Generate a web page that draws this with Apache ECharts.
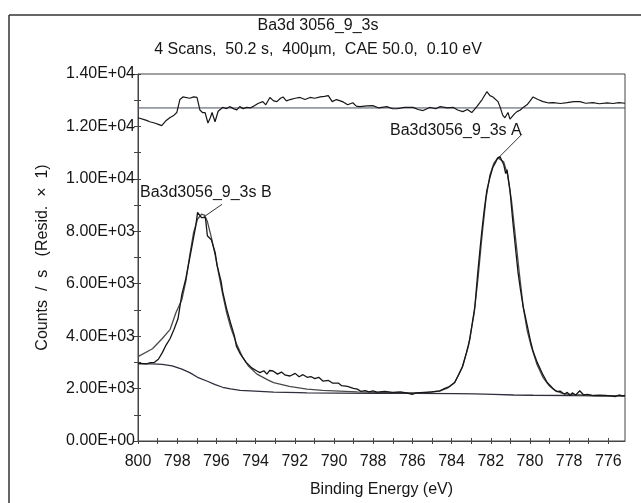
<!DOCTYPE html>
<html lang="en">
<head>
    <meta charset="UTF-8">
    <title>Ba3d 3056_9_3s</title>
    <script src="https://cdn.jsdelivr.net/npm/echarts@6.0.0/dist/echarts.min.js"></script>
    <style>
        html, body {margin: 0; padding: 0; background: #fff;}
        #main {width: 641px; height: 503px;}
    </style>
</head>
<body>
<div id="main"></div>

<script>
    // binding energy (eV), counts / s
    var rawCounts = [
        [800.0, 2970], [799.56, 2940], [799.36, 2990], [799.16, 3000], [798.96, 3120], [798.76, 3370],
        [798.56, 3670], [798.36, 3910], [798.16, 4260], [797.96, 4660], [797.76, 5600], [797.56, 6190],
        [797.36, 6980], [797.16, 7780], [797.06, 8170], [796.96, 8720], [796.86, 8670], [796.76, 8520],
        [796.66, 8570], [796.56, 8520], [796.46, 7830], [796.36, 7870], [796.26, 7680], [796.06, 7180],
        [795.96, 6690], [795.76, 6090], [795.68, 5700], [795.48, 5050], [795.28, 4510], [795.08, 4010],
        [794.98, 3620], [794.78, 3320], [794.48, 3000], [794.18, 2780], [793.93, 2670], [793.78, 2610],
        [793.58, 2680], [793.42, 2550], [793.28, 2690], [793.11, 2670], [792.88, 2550], [792.68, 2630],
        [792.48, 2510], [792.24, 2480], [791.98, 2580], [791.78, 2450], [791.58, 2530], [791.37, 2430],
        [791.18, 2460], [790.98, 2380], [790.78, 2430], [790.55, 2280], [790.28, 2310], [790.08, 2210],
        [789.78, 2210], [789.61, 2110], [789.31, 2080], [789.01, 2010], [788.81, 1980], [788.61, 1890],
        [788.41, 1920], [788.21, 1870], [788.01, 1910], [787.81, 1865], [787.41, 1895], [787.01, 1855],
        [786.61, 1875], [786.31, 1835], [786.01, 1775], [785.81, 1835], [785.41, 1855], [785.01, 1875],
        [784.61, 1915], [784.41, 1985], [784.11, 2080], [783.84, 2230], [783.64, 2530], [783.44, 2850],
        [783.24, 3370], [783.07, 3880], [782.94, 4510], [782.81, 5140], [782.66, 6440], [782.54, 7380],
        [782.46, 7970], [782.34, 8770], [782.2, 9560], [782.04, 10060], [781.89, 10450], [781.74, 10650],
        [781.64, 10800], [781.53, 10850], [781.44, 10700], [781.34, 10550], [781.24, 10200], [781.17, 10350],
        [781.02, 9560], [780.87, 8340], [780.74, 7380], [780.61, 6440], [780.49, 5800], [780.35, 5140],
        [780.14, 4410], [779.99, 3880], [779.84, 3420], [779.63, 3000], [779.34, 2530], [779.12, 2230],
        [778.84, 2010], [778.64, 1885], [778.46, 1905], [778.24, 1785], [778.1, 1855], [777.94, 1735],
        [777.84, 1835], [777.66, 1755], [777.46, 1915], [777.26, 1755], [777.06, 1775], [776.76, 1735],
        [776.46, 1745], [776.16, 1735], [775.86, 1725], [775.66, 1695], [775.46, 1755], [775.26, 1725],
        [775.15, 1735]
    ];

    var envelopeFit = [
        [800.0, 3220], [799.26, 3520], [798.76, 3910], [798.36, 4260], [798.06, 4900], [797.76, 5400],
        [797.56, 6090], [797.36, 7080], [797.16, 7970], [796.96, 8470], [796.76, 8650], [796.61, 8620],
        [796.46, 8370], [796.26, 7780], [796.06, 7080], [795.86, 6290], [795.68, 5600], [795.48, 4900],
        [795.28, 4360], [794.98, 3720], [794.68, 3220], [794.38, 2870], [793.93, 2550], [793.38, 2330],
        [793.08, 2230], [792.28, 2080], [791.38, 1980], [790.58, 1930], [789.7, 1905], [788.81, 1875],
        [787.81, 1855], [786.81, 1845], [785.81, 1835], [785.21, 1855], [784.61, 1905], [784.21, 2015],
        [783.84, 2230], [783.44, 2825], [783.14, 3620], [782.84, 4900], [782.64, 6290], [782.44, 7870],
        [782.24, 9260], [782.04, 10150], [781.84, 10600], [781.64, 10800], [781.54, 10830], [781.34, 10650],
        [781.14, 10150], [780.94, 9160], [780.74, 7780], [780.54, 6390], [780.34, 5100], [780.14, 4210],
        [779.94, 3620], [779.64, 2920], [779.34, 2430], [779.04, 2130], [778.74, 1935], [778.34, 1815],
        [777.84, 1765], [776.86, 1735], [775.86, 1725], [775.15, 1725]
    ];

    var shirleyBg = [
        [800.0, 2945], [799.26, 2945], [798.76, 2925], [798.26, 2865], [797.76, 2745], [797.36, 2610],
        [796.96, 2430], [796.46, 2280], [796.06, 2150], [795.68, 2050], [795.28, 1985], [794.78, 1935],
        [793.78, 1895], [793.08, 1865], [791.78, 1845], [791.38, 1835], [789.8, 1825], [787.81, 1815],
        [785.81, 1815], [783.84, 1805], [782.84, 1795], [781.84, 1775], [780.84, 1755], [779.84, 1745],
        [777.84, 1735], [775.86, 1725], [775.15, 1725]
    ];

    var residual = [
        [800.0, 12330], [799.56, 12230], [799.4, 12180], [799.16, 12130], [798.96, 12080], [798.79, 12030],
        [798.56, 12230], [798.38, 12330], [798.16, 12430], [798.02, 12530], [797.86, 13030], [797.71, 13125],
        [797.36, 13075], [797.16, 13125], [796.99, 13105], [796.84, 12625], [796.71, 12530], [796.58, 12530],
        [796.43, 12130], [796.31, 12330], [796.22, 12530], [796.07, 12180], [795.91, 12580], [795.68, 12725],
        [795.48, 12680], [795.32, 12755], [795.13, 12680], [794.96, 12630], [794.81, 12755], [794.63, 12680],
        [794.45, 12725], [794.28, 12705], [794.14, 12755], [793.88, 12875], [793.63, 12945], [793.48, 12825],
        [793.27, 13105], [793.08, 12975], [792.91, 12945], [792.73, 13075], [792.6, 13125], [792.43, 12975],
        [792.24, 13025], [791.98, 13075], [791.73, 13105], [791.48, 13025], [791.22, 13105], [790.98, 13075],
        [790.7, 13125], [790.48, 13145], [790.29, 13175], [790.09, 12945], [789.88, 13025], [789.71, 12985],
        [789.51, 12925], [789.3, 12825], [789.04, 12905], [788.86, 12775], [788.68, 12755], [788.31, 12785],
        [788.02, 12795], [787.71, 12705], [787.3, 12755], [787.01, 12675], [786.78, 12675], [786.41, 12725],
        [785.96, 12725], [785.71, 12645], [785.45, 12605], [785.11, 12725], [784.81, 12675], [784.58, 12755],
        [784.21, 12705], [783.91, 12725], [783.69, 12625], [783.43, 12565], [783.19, 12645], [782.97, 12530],
        [782.71, 12755], [782.44, 13025], [782.2, 13325], [782.04, 13175], [781.89, 13125], [781.63, 12945],
        [781.53, 12755], [781.39, 12430], [781.28, 12330], [781.12, 12530], [781.02, 12280], [780.92, 12260],
        [780.79, 12480], [780.66, 12565], [780.49, 12625], [780.35, 12725], [780.15, 12825], [779.99, 12975],
        [779.84, 13125], [779.59, 13025], [779.33, 12945], [779.04, 12895], [778.81, 12905], [778.44, 12875],
        [778.1, 12905], [777.76, 12945], [777.45, 12945], [777.16, 12885], [776.78, 12905], [776.46, 12865],
        [776.06, 12895], [775.76, 12875], [775.46, 12905], [775.15, 12885]
    ];

    var residZero = [[800.0, 12705], [775.15, 12705]];

    var xLabels = [800, 798, 796, 794, 792, 790, 788, 786, 784, 782, 780, 778, 776];
    var xTicks = [800, 799, 798, 797, 796, 795, 794, 793, 792, 791, 790, 789, 788, 787,
        786, 785, 784, 783, 782, 781, 780, 779, 778, 777, 776];
    var yLabels = [0, 2000, 4000, 6000, 8000, 10000, 12000, 14000];
    var yTicks = [0, 1000, 2000, 3000, 4000, 5000, 6000, 7000, 8000, 9000, 10000, 11000, 12000, 13000, 14000];

    // peak names and their leader lines
    var peakNames = [
        {name: 'Ba3d3056_9_3s B', value: [799.9, 9470]},
        {name: 'Ba3d3056_9_3s A', value: [787.14, 11830]}
    ];
    var leaderB = [[795.71, 9030], [796.68, 8530]];
    var leaderA = [[780.41, 11700], [781.53, 10860]];

    function sciLabel(v) {
        if (v === 0) return '0.00E+00';
        var e = Math.floor(Math.log10(v));
        var m = v / Math.pow(10, e);
        return m.toFixed(2) + 'E+' + (e < 10 ? '0' + e : e);
    }

    var ink = '#161616';
    var font = 'Liberation Sans, Arial, sans-serif';

    var myChart = echarts.init(document.getElementById('main'));

    function lineSeries(name, data, color, width) {
        return {
            name: name, type: 'line', data: data, xAxisIndex: 0, yAxisIndex: 0,
            symbol: 'none', animation: false, silent: true,
            lineStyle: {color: color, width: width}
        };
    }

    var option = {
        backgroundColor: '#ffffff',
        animation: false,
        textStyle: {fontFamily: font},
        title: [{
            text: 'Ba3d 3056_9_3s',
            left: 318, top: 18, textAlign: 'center', padding: 0,
            textStyle: {fontSize: 16, fontWeight: 'normal', color: ink, fontFamily: font}
        }, {
            text: '4 Scans,  50.2 s,  400\u00b5m,  CAE 50.0,  0.10 eV',
            left: 318, top: 42, textAlign: 'center', padding: 0,
            textStyle: {fontSize: 16, fontWeight: 'normal', color: ink, fontFamily: font}
        }],
        graphic: [
            {type: 'line', shape: {x1: 9, y1: 15, x2: 641, y2: 15}, style: {stroke: '#333', lineWidth: 1.5}},
            {type: 'line', shape: {x1: 9, y1: 15, x2: 9, y2: 503}, style: {stroke: '#333', lineWidth: 1.5}}
        ],
        grid: {
            left: 138, top: 74, width: 487, height: 368,
            show: true, borderColor: '#444', borderWidth: 1, backgroundColor: 'transparent'
        },
        xAxis: [{
            type: 'value', inverse: true, min: 775.15, max: 800,
            name: 'Binding Energy (eV)', nameLocation: 'middle', nameGap: 41,
            nameTextStyle: {fontSize: 16, color: ink, fontFamily: font},
            axisLine: {show: true, lineStyle: {color: '#444'}},
            axisTick: {show: true, length: 3, customValues: xTicks, lineStyle: {color: '#444'}},
            axisLabel: {customValues: xLabels, fontSize: 16, color: ink, margin: 13, fontFamily: font},
            splitLine: {show: false}
        }, {
            type: 'value', inverse: true, min: 775.15, max: 800, position: 'bottom',
            axisLine: {show: false},
            axisTick: {show: true, inside: true, length: 3, customValues: xTicks, lineStyle: {color: '#444'}},
            axisLabel: {show: false},
            splitLine: {show: false}
        }],
        yAxis: [{
            type: 'value', min: 0, max: 14000,
            name: 'Counts  /  s   (Resid.  \u00d7  1)', nameLocation: 'middle', nameGap: 87, nameRotate: 90,
            nameTextStyle: {fontSize: 16, color: ink, fontFamily: font},
            axisLine: {show: true, lineStyle: {color: '#444'}},
            axisTick: {show: true, length: 4, customValues: yTicks, lineStyle: {color: '#444'}},
            axisLabel: {customValues: yLabels, formatter: sciLabel, fontSize: 16, color: ink, margin: 3, fontFamily: font},
            splitLine: {show: false}
        }, {
            type: 'value', min: 0, max: 14000, position: 'left',
            axisLine: {show: false},
            axisTick: {show: true, inside: true, length: 3, customValues: yTicks, lineStyle: {color: '#444'}},
            axisLabel: {show: false},
            splitLine: {show: false}
        }],
        series: [
            lineSeries('Background', shirleyBg, '#2e2e3c', 1.3),
            lineSeries('Envelope', envelopeFit, '#4a4a4a', 1.3),
            lineSeries('Ba3d', rawCounts, ink, 1.3),
            lineSeries('Residual zero', residZero, '#4a4f60', 1),
            lineSeries('Residual', residual, ink, 1.2),
            lineSeries('Leader B', leaderB, '#333', 1),
            lineSeries('Leader A', leaderA, '#333', 1),
            {
                name: 'Peak names', type: 'scatter', data: peakNames,
                symbolSize: 0, silent: true, animation: false,
                itemStyle: {opacity: 1},
                label: {
                    show: true, position: 'right', distance: 0,
                    formatter: '{b}', fontSize: 16, color: ink, fontFamily: font
                }
            }
        ]
    };

    myChart.setOption(option);
</script>
</body>
</html>
